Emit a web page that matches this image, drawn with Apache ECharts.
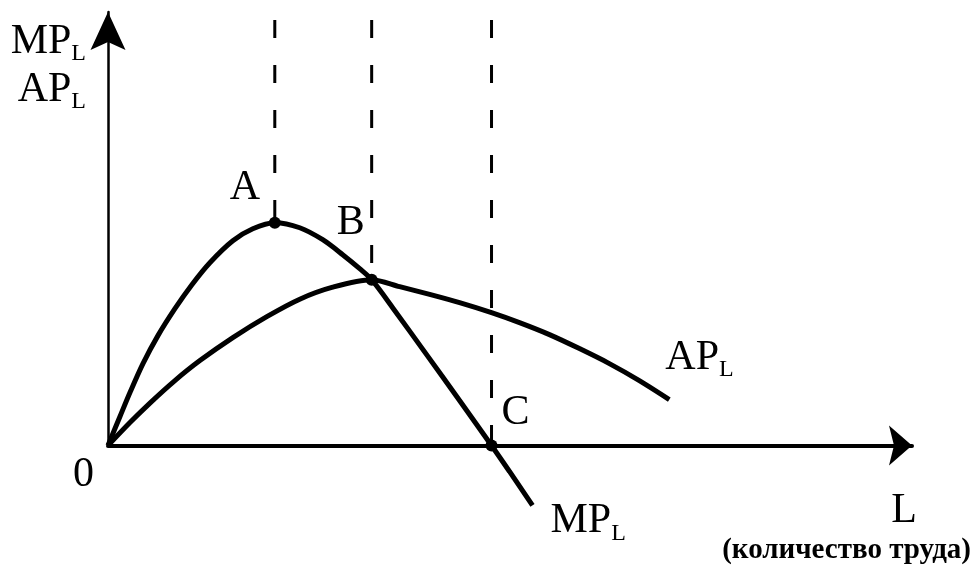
<!DOCTYPE html>
<html>
<head>
<meta charset="utf-8">
<script src="https://cdn.jsdelivr.net/npm/echarts@6/dist/echarts.min.js"></script>
<style>
html,body{margin:0;padding:0;background:#fff}
#main{width:974px;height:565px}
</style>
</head>
<body>
<div id="main"></div>
<script>
/*данные кривых: L и значения*/
var mpL = [0, 1.2, 2.2, 3.5, 5.0, 6.7, 8.4, 10.2, 12.5, 14.5, 16.7, 19.2, 21.5, 23.5, 25.2, 26.4, 28.5, 31.9, 35.2, 38.4, 40.2, 42.5];
var mpV = [0, 2.9, 5.3, 8.2, 11.0, 13.7, 16.1, 18.3, 20.5, 21.7, 22.3, 21.8, 20.6, 19.1, 17.7, 16.6, 13.8, 9.1, 4.5, 0, -2.6, -6.0];
var apL = [0, 2.2, 4.2, 6.7, 9.2, 12.5, 15.9, 19.2, 22.5, 26.4, 29.2, 32.3, 35.2, 38.4, 41.2, 44.2, 47.2, 50.2, 53.2, 56.2];
var apV = [0, 2.3, 4.25, 6.5, 8.5, 10.8, 12.9, 14.65, 15.85, 16.6, 15.9, 15.1, 14.3, 13.3, 12.3, 11.1, 9.7, 8.2, 6.5, 4.6];
/*точки A, B, C*/
var ptNames = ['A', 'B', 'C'];
var ptL = [16.7, 26.4, 38.4];
var ptV = [22.3, 16.6, 0];
var dashTop = 44.6;   //пунктир до верхнего края
var xMax = 80.5, yMax = 43.4;

function pairs(xs, ys){
    var out = [];
    for(var i=0;i<xs.length;i++){ out.push([xs[i], ys[i]]); }
    return out;
}

var serif = "'Liberation Serif', 'DejaVu Serif', serif";
var rich = {
    m:{fontFamily:serif, fontSize:42, color:'#000', lineHeight:46},
    s:{fontFamily:serif, fontSize:24, color:'#000', verticalAlign:'top', padding:[24,0,0,0]}
};
var labelOffsets = [[-30,-3],[-21,-25],[24,-1]];

var dashSeries = ptL.map(function(x, i){
    return {
        type:'line', data:[[x, dashTop], [x, ptV[i]]], symbol:'none', clip:false, silent:true,
        lineStyle:{color:'#000', width:3, type:[18,27], dashOffset:25}
    };
});

var myChart = echarts.init(document.getElementById('main'), null, {renderer:'canvas'});
myChart.setOption({
    animation:false,
    backgroundColor:'#fff',
    grid:{left:108, right:61, top:12, bottom:119},
    xAxis:{
        type:'value', min:0, max:xMax, interval:100,
        axisLine:{lineStyle:{color:'#000', width:4}, symbol:['none','path://M20,0 L40,23 L20,18 L0,23 Z'], symbolSize:[40,23], symbolOffset:[0,-11.5]},
        axisTick:{show:false}, splitLine:{show:false},
        axisLabel:{show:true, showMaxLabel:false, formatter:function(v){return v===0?'0':'';},
            fontFamily:serif, fontSize:42, color:'#000', align:'right', padding:[0,14,0,0], margin:8},
        name:'{l|L}\n{r|(количество труда)}', nameLocation:'end', nameGap:59,
        nameTextStyle:{align:'right', verticalAlign:'top', padding:[42,0,0,0],
            rich:{
                l:{fontFamily:serif, fontSize:42, color:'#000', align:'right', padding:[0,54,0,0], lineHeight:46},
                r:{fontFamily:serif, fontSize:29, fontWeight:'bold', color:'#000', lineHeight:34}
            }}
    },
    yAxis:{
        type:'value', min:0, max:yMax, interval:100,
        axisLine:{show:true, onZero:false, lineStyle:{color:'#000', width:2.5}, symbol:['none','path://M17.5,0 L35,38 L17.5,30 L0,38 Z'], symbolSize:[35,38], symbolOffset:[0,-19]},
        axisTick:{show:false}, splitLine:{show:false}, axisLabel:{show:false},
        name:'{m|MP}{s|L}\n{m|AP}{s|L}', nameLocation:'end', nameGap:-6,
        nameTextStyle:{align:'right', verticalAlign:'top', padding:[0,22,0,0], rich:rich}
    },
    series:dashSeries.concat([
        {
            name:'MP', type:'line', data:pairs(mpL, mpV), smooth:0.3, symbol:'none', clip:false,
            lineStyle:{color:'#000', width:5},
            endLabel:{show:true, formatter:'{m|MP}{s|L}', rich:rich, offset:[10,16]}
        },
        {
            name:'AP', type:'line', data:pairs(apL, apV), smooth:0.3, symbol:'none', clip:false,
            lineStyle:{color:'#000', width:5},
            endLabel:{show:true, formatter:'{m|AP}{s|L}', rich:rich, offset:[-12,-42]}
        },
        {
            type:'scatter', symbolSize:12, clip:false, itemStyle:{color:'#000', opacity:1}, z:5,
            data:ptNames.map(function(n, i){
                return {name:n, value:[ptL[i], ptV[i]],
                    label:{show:true, position:'top', formatter:n, offset:labelOffsets[i],
                        fontFamily:serif, fontSize:42, color:'#000', textBorderWidth:0}};
            })
        }
    ])
});
</script>
</body>
</html>
